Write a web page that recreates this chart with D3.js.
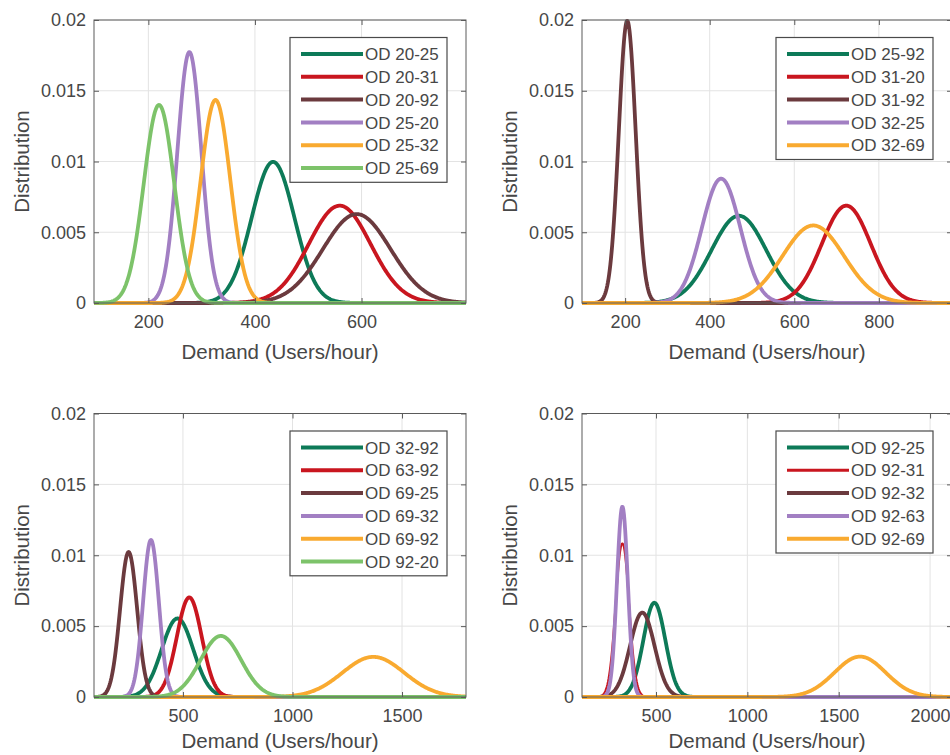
<!DOCTYPE html>
<html>
<head>
<meta charset="utf-8">
<script src="https://cdn.jsdelivr.net/npm/d3@7"></script>
<style>
  html, body { margin: 0; padding: 0; background: #fff; }
  svg { display: block; font-family: "Liberation Sans", Arial, sans-serif; }
</style>
</head>
<body>
<svg id="chart" width="950" height="755"></svg>
<script>
  // OD pairs shown in each panel, in plotting order
  const odTopLeft = ['OD 20-25', 'OD 20-31', 'OD 20-92', 'OD 25-20', 'OD 25-32', 'OD 25-69'];
  const odTopRight = ['OD 25-92', 'OD 31-20', 'OD 31-92', 'OD 32-25', 'OD 32-69'];
  const odBottomLeft = ['OD 32-92', 'OD 63-92', 'OD 69-25', 'OD 69-32', 'OD 69-92', 'OD 92-20'];
  const odBottomRight = ['OD 92-25', 'OD 92-31', 'OD 92-32', 'OD 92-63', 'OD 92-69'];

  // mean demand (users/hour)
  const meanTopLeft = [434, 559, 591, 277, 326, 220];
  const meanTopRight = [469, 723, 205, 427, 645];
  const meanBottomLeft = [475, 529, 252, 354, 1369, 673];
  const meanBottomRight = [491, 316, 425, 316, 1617];

  // standard deviations, from peak height and width
  const sdTopLeft = [40, 58, 63.5, 22.5, 27.8, 28.5];
  const sdTopRight = [64.7, 58, 20, 45.4, 72.8];
  const sdBottomLeft = [72, 56.8, 39, 36, 141, 92.6];
  const sdBottomRight = [60, 36.8, 67, 29.7, 140];

  const xRanges = [[98, 796], [98, 973], [94, 1792], [95, 2120]];
  const xTickValues = [[200, 400, 600], [200, 400, 600, 800], [500, 1000, 1500], [500, 1000, 1500, 2000]];
  const yTickValues = [0, 0.005, 0.01, 0.015, 0.02];

  const colors = ['#0d7a58', '#c9161f', '#6b3a3e', '#a27fc3', '#f9aa30', '#7dc36a'];

  const panels = [
    { names: odTopLeft, means: meanTopLeft, sds: sdTopLeft, box: [94, 466, 20, 303], labelGap: 56 },
    { names: odTopRight, means: meanTopRight, sds: sdTopRight, box: [582, 952, 20, 303], labelGap: 56 },
    { names: odBottomLeft, means: meanBottomLeft, sds: sdBottomLeft, box: [94, 466, 413.5, 697], labelGap: 51 },
    { names: odBottomRight, means: meanBottomRight, sds: sdBottomRight, box: [582, 952, 413.5, 697], labelGap: 51 }
  ];

  const svg = d3.select('#chart');
  const axisColor = '#5a5a5a';
  const textColor = '#474747';

  function normalPdf(x, mu, sigma) {
    const z = (x - mu) / sigma;
    return Math.exp(-0.5 * z * z) / (sigma * Math.sqrt(2 * Math.PI));
  }

  panels.forEach((p, i) => {
    const [left, right, top, bottom] = p.box;
    const x = d3.scaleLinear().domain(xRanges[i]).range([left, right]);
    const y = d3.scaleLinear().domain([0, 0.02]).range([bottom, top]);
    const g = svg.append('g');

    // grid
    g.append('g')
      .selectAll('line')
      .data(xTickValues[i])
      .join('line')
      .attr('x1', (d) => x(d)).attr('x2', (d) => x(d))
      .attr('y1', top).attr('y2', bottom)
      .attr('stroke', '#e3e3e3').attr('stroke-width', 1);
    g.append('g')
      .selectAll('line')
      .data(yTickValues)
      .join('line')
      .attr('x1', left).attr('x2', right)
      .attr('y1', (d) => y(d)).attr('y2', (d) => y(d))
      .attr('stroke', '#e3e3e3').attr('stroke-width', 1);

    // curves
    const xs = d3.range(0, 601).map((k) => xRanges[i][0] + (k / 600) * (xRanges[i][1] - xRanges[i][0]));
    const line = d3.line().x((d) => x(d[0])).y((d) => y(d[1]));
    p.names.forEach((name, j) => {
      const pts = xs.map((v) => [v, normalPdf(v, p.means[j], p.sds[j])]);
      g.append('path')
        .attr('d', line(pts))
        .attr('fill', 'none')
        .attr('stroke', colors[j])
        .attr('stroke-width', i === 3 && j === 1 ? 2 : 3.8)
        .attr('stroke-linejoin', 'round');
    });

    // axes (ticks inward, box on)
    const tickLen = 5;
    g.append('g')
      .attr('transform', `translate(0,${bottom})`)
      .call(d3.axisBottom(x).tickValues(xTickValues[i]).tickSize(-tickLen).tickPadding(12).tickFormat(d3.format('d')))
      .call((a) => a.select('.domain').remove());
    g.append('g')
      .attr('transform', `translate(0,${top})`)
      .call(d3.axisTop(x).tickValues(xTickValues[i]).tickSize(-tickLen).tickFormat(''))
      .call((a) => a.select('.domain').remove());
    g.append('g')
      .attr('transform', `translate(${left},0)`)
      .call(d3.axisLeft(y).tickValues(yTickValues).tickSize(-tickLen).tickPadding(8).tickFormat((d) => (d === 0 ? '0' : String(+d.toFixed(3)))))
      .call((a) => a.select('.domain').remove());
    g.append('g')
      .attr('transform', `translate(${right},0)`)
      .call(d3.axisRight(y).tickValues(yTickValues).tickSize(-tickLen).tickFormat(''))
      .call((a) => a.select('.domain').remove());
    g.selectAll('.tick line').attr('stroke', axisColor);
    g.selectAll('.tick text').attr('fill', textColor).attr('font-size', 18).attr('font-family', '"Liberation Sans", Arial, sans-serif');

    g.append('rect')
      .attr('x', left).attr('y', top)
      .attr('width', right - left).attr('height', bottom - top)
      .attr('fill', 'none').attr('stroke', axisColor).attr('stroke-width', 1);

    // axis labels
    g.append('text')
      .attr('x', (left + right) / 2).attr('y', bottom + p.labelGap)
      .attr('text-anchor', 'middle').attr('font-size', 20.5).attr('fill', textColor)
      .text('Demand (Users/hour)');
    g.append('text')
      .attr('transform', `translate(${left - 65},${(top + bottom) / 2}) rotate(-90)`)
      .attr('text-anchor', 'middle').attr('font-size', 20.5).attr('fill', textColor)
      .text('Distribution');

    // legend
    const rowH = 22.8;
    const lw = 157;
    const lh = p.names.length * rowH + 8;
    const lx = right - 19 - lw;
    const ly = top + 17.5;
    const leg = g.append('g').attr('transform', `translate(${lx},${ly})`);
    leg.append('rect')
      .attr('width', lw).attr('height', lh)
      .attr('fill', '#fff').attr('stroke', '#4a4a4a').attr('stroke-width', 1.2);
    p.names.forEach((name, j) => {
      const ry = 16.5 + j * rowH;
      leg.append('line')
        .attr('x1', 11).attr('x2', 73).attr('y1', ry).attr('y2', ry)
        .attr('stroke', colors[j]).attr('stroke-width', i === 3 && j === 1 ? 3 : 4);
      leg.append('text')
        .attr('x', 75).attr('y', ry).attr('dy', '0.36em')
        .attr('font-size', 17).attr('fill', textColor)
        .text(name);
    });
  });
</script>
</body>
</html>
